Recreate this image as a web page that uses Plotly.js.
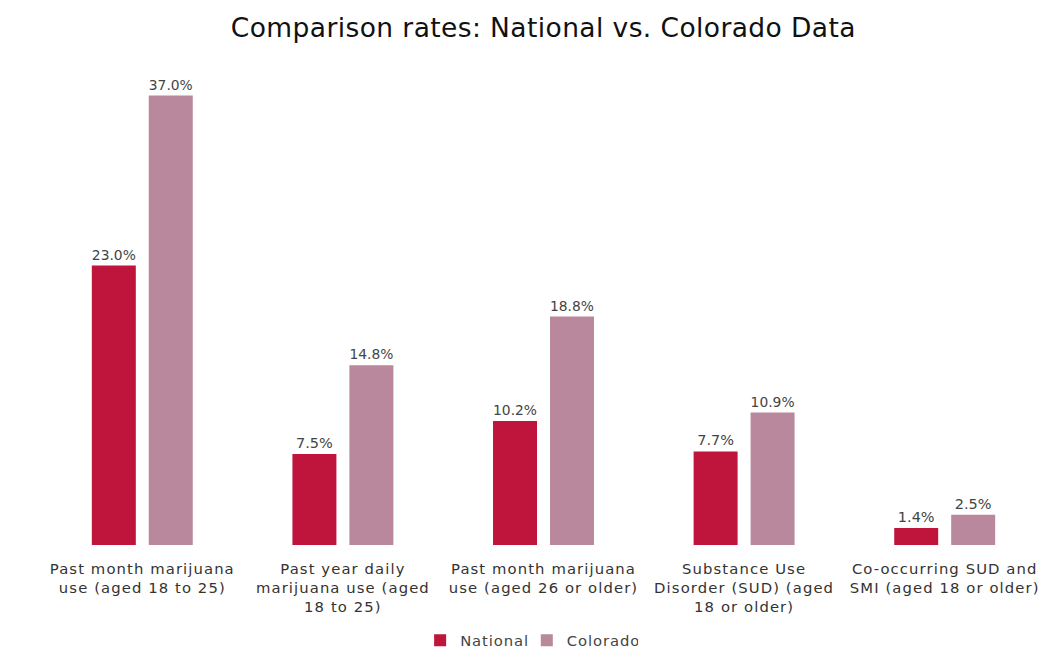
<!DOCTYPE html>
<html><head><meta charset="utf-8">
<script src="https://cdn.plot.ly/plotly-3.0.1.min.js"></script>
<style>
html,body{margin:0;padding:0;background:#fff}#chart{width:1051px;height:651px}
#chart .xtick text{letter-spacing:1.1px}
#chart .textpoint text{letter-spacing:0.8px}
#chart .legendtext{letter-spacing:0.9px}
#chart .gtitle{letter-spacing:0.4px}
</style>
</head><body><div id="chart"></div>
<script>
const categories = [
  "Past month marijuana<br>use (aged 18 to 25)",
  "Past year daily<br>marijuana use (aged<br>18 to 25)",
  "Past month marijuana<br>use (aged 26 or older)",
  "Substance Use<br>Disorder (SUD) (aged<br>18 or older)",
  "Co-occurring SUD and<br>SMI (aged 18 or older)"
];
const national = [23.0, 7.5, 10.2, 7.7, 1.4];
const colorado = [37.0, 14.8, 18.8, 10.9, 2.5];
const fmt = v => v.toFixed(1) + "%";
const FONT = "'DejaVu Sans', 'Open Sans', sans-serif";
const traces = [
  {type:"bar", name:"National", x:categories, y:national, text:national.map(fmt),
   textposition:"outside", cliponaxis:false, marker:{color:"#bf143b"},
   textfont:{color:"#444", size:14.5}},
  {type:"bar", name:"Colorado", x:categories, y:colorado, text:colorado.map(fmt),
   textposition:"outside", cliponaxis:false, marker:{color:"#b9889c"},
   textfont:{color:"#444", size:14.5}}
];
const layout = {
  width:1051, height:651,
  margin:{l:42, r:6, t:59, b:106, autoexpand:false},
  paper_bgcolor:"#fff", plot_bgcolor:"#fff",
  font:{family:FONT, color:"#333", size:14.5},
  title:{text:"Comparison rates: National vs. Colorado Data", x:0.517, xanchor:"center", y:0.957, yanchor:"middle",
         font:{size:26.5, color:"#111", family:FONT}},
  barmode:"group", bargap:0.432, bargroupgap:0.228,
  xaxis:{showgrid:false, showline:false, zeroline:false, ticks:"", ticklabelstandoff:13, automargin:false,
         tickfont:{size:14.8, color:"#333", family:FONT}},
  yaxis:{range:[0,40], visible:false, showgrid:false, zeroline:false, automargin:false},
  showlegend:true,
  legend:{orientation:"h", x:0.377, xanchor:"left", yref:"container", y:0.016, yanchor:"middle",
          font:{size:14.8, color:"#444", family:FONT}, itemwidth:30, tracegroupgap:0}
};
Plotly.newPlot("chart", traces, layout, {displayModeBar:false, staticPlot:true});
</script></body></html>
